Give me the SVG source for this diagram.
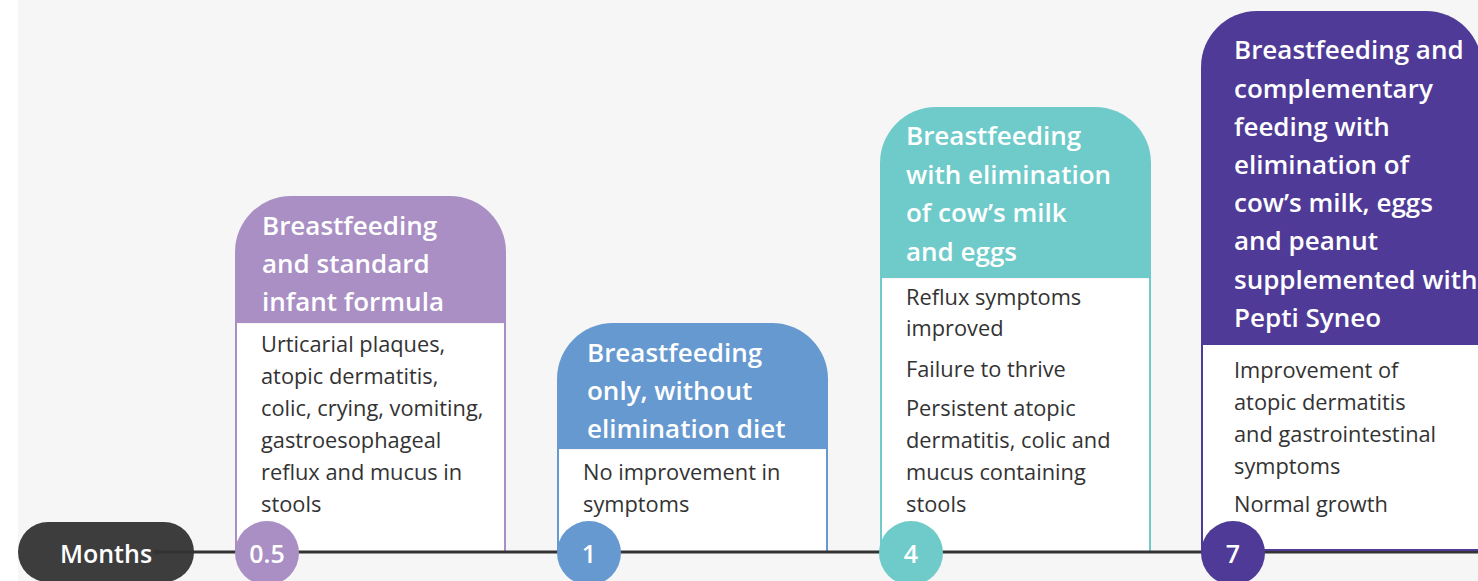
<svg xmlns="http://www.w3.org/2000/svg" width="1478" height="581" viewBox="0 0 1478 581">
<style>
.t{font-family:"Open Sans","Liberation Sans",sans-serif;font-weight:600;font-size:26px;fill:#fff}
.b{font-family:"Open Sans","Liberation Sans",sans-serif;font-weight:400;font-size:21.8px;fill:#333}
.n{font-family:"Open Sans","Liberation Sans",sans-serif;font-weight:600;font-size:25px;fill:#fff;text-anchor:middle}
</style>
<rect x="0" y="0" width="1478" height="581" fill="#fff"/>
<rect x="18" y="0" width="1460" height="581" fill="#f6f6f6"/>
<g id="months">
<rect x="18" y="522" width="176" height="60" rx="30" fill="#3d3d3d"/>
<text class="n" x="106" y="563">Months</text>
</g>
<g id="node1">
<path d="M235 323 V252 A56 56 0 0 1 291 196 H450 A56 56 0 0 1 506 252 V323 Z" fill="#a98fc4"/>
<rect x="236" y="324" width="269" height="228" fill="#fff"/>
<path d="M236 323 V552 M505 323 V552" stroke="#a98fc4" stroke-width="2" fill="none"/>
<text class="t" x="262" y="235">Breastfeeding</text>
<text class="t" x="262" y="273">and standard</text>
<text class="t" x="262" y="311">infant formula</text>
<text class="b" x="261" y="352">Urticarial plaques,</text>
<text class="b" x="261" y="384">atopic dermatitis,</text>
<text class="b" x="261" y="416">colic, crying, vomiting,</text>
<text class="b" x="261" y="448">gastroesophageal</text>
<text class="b" x="261" y="480">reflux and mucus in</text>
<text class="b" x="261" y="512">stools</text>
</g>
<g id="node2">
<path d="M557 449 V379 A56 56 0 0 1 613 323 H772 A56 56 0 0 1 828 379 V449 Z" fill="#6699d0"/>
<rect x="558" y="450" width="269" height="102" fill="#fff"/>
<path d="M558 449 V552 M827 449 V552" stroke="#6699d0" stroke-width="2" fill="none"/>
<text class="t" x="587" y="362">Breastfeeding</text>
<text class="t" x="587" y="400">only, without</text>
<text class="t" x="587" y="438">elimination diet</text>
<text class="b" x="583" y="480">No improvement in</text>
<text class="b" x="583" y="512">symptoms</text>
</g>
<g id="node3">
<path d="M880 278 V163 A56 56 0 0 1 936 107 H1095 A56 56 0 0 1 1151 163 V278 Z" fill="#6ecbca"/>
<rect x="881" y="279" width="269" height="273" fill="#fff"/>
<path d="M881 278 V552 M1150 278 V552" stroke="#6ecbca" stroke-width="2" fill="none"/>
<text class="t" x="906" y="145">Breastfeeding</text>
<text class="t" x="906" y="184">with elimination</text>
<text class="t" x="906" y="222">of cow’s milk</text>
<text class="t" x="906" y="261">and eggs</text>
<text class="b" x="906" y="305">Reflux symptoms</text>
<text class="b" x="906" y="336">improved</text>
<text class="b" x="906" y="377">Failure to thrive</text>
<text class="b" x="906" y="416">Persistent atopic</text>
<text class="b" x="906" y="448">dermatitis, colic and</text>
<text class="b" x="906" y="480">mucus containing</text>
<text class="b" x="906" y="512">stools</text>
</g>
<g id="connectors">
<line x1="153" y1="552" x2="1478" y2="552" stroke="#333" stroke-width="3"/>
</g>
<g id="node4">
<path d="M1201 343 V67 A56 56 0 0 1 1257 11 H1426 A56 56 0 0 1 1482 67 V343 Z" fill="#4f3b97"/>
<rect x="1202" y="344" width="290" height="206" fill="#fff" stroke="#4f3b97" stroke-width="2"/>
<text class="t" x="1234" y="59">Breastfeeding and</text>
<text class="t" x="1234" y="98">complementary</text>
<text class="t" x="1234" y="136">feeding with</text>
<text class="t" x="1234" y="174">elimination of</text>
<text class="t" x="1234" y="212">cow’s milk, eggs</text>
<text class="t" x="1234" y="250">and peanut</text>
<text class="t" x="1234" y="289">supplemented with</text>
<text class="t" x="1234" y="327">Pepti Syneo</text>
<text class="b" x="1234" y="378">Improvement of</text>
<text class="b" x="1234" y="410">atopic dermatitis</text>
<text class="b" x="1234" y="442">and gastrointestinal</text>
<text class="b" x="1234" y="474">symptoms</text>
<text class="b" x="1234" y="512">Normal growth</text>
</g>
<g id="marker-05">
<circle cx="267" cy="553" r="32" fill="#a98fc4"/>
<text class="n" x="267" y="563">0.5</text>
</g>
<g id="marker-1">
<circle cx="589" cy="553" r="32" fill="#6699d0"/>
<text class="n" x="589" y="563">1</text>
</g>
<g id="marker-4">
<circle cx="911" cy="553" r="32" fill="#6ecbca"/>
<text class="n" x="911" y="563">4</text>
</g>
<g id="marker-7">
<circle cx="1233" cy="553" r="32" fill="#4f3b97"/>
<text class="n" x="1233" y="563">7</text>
</g>
</svg>
